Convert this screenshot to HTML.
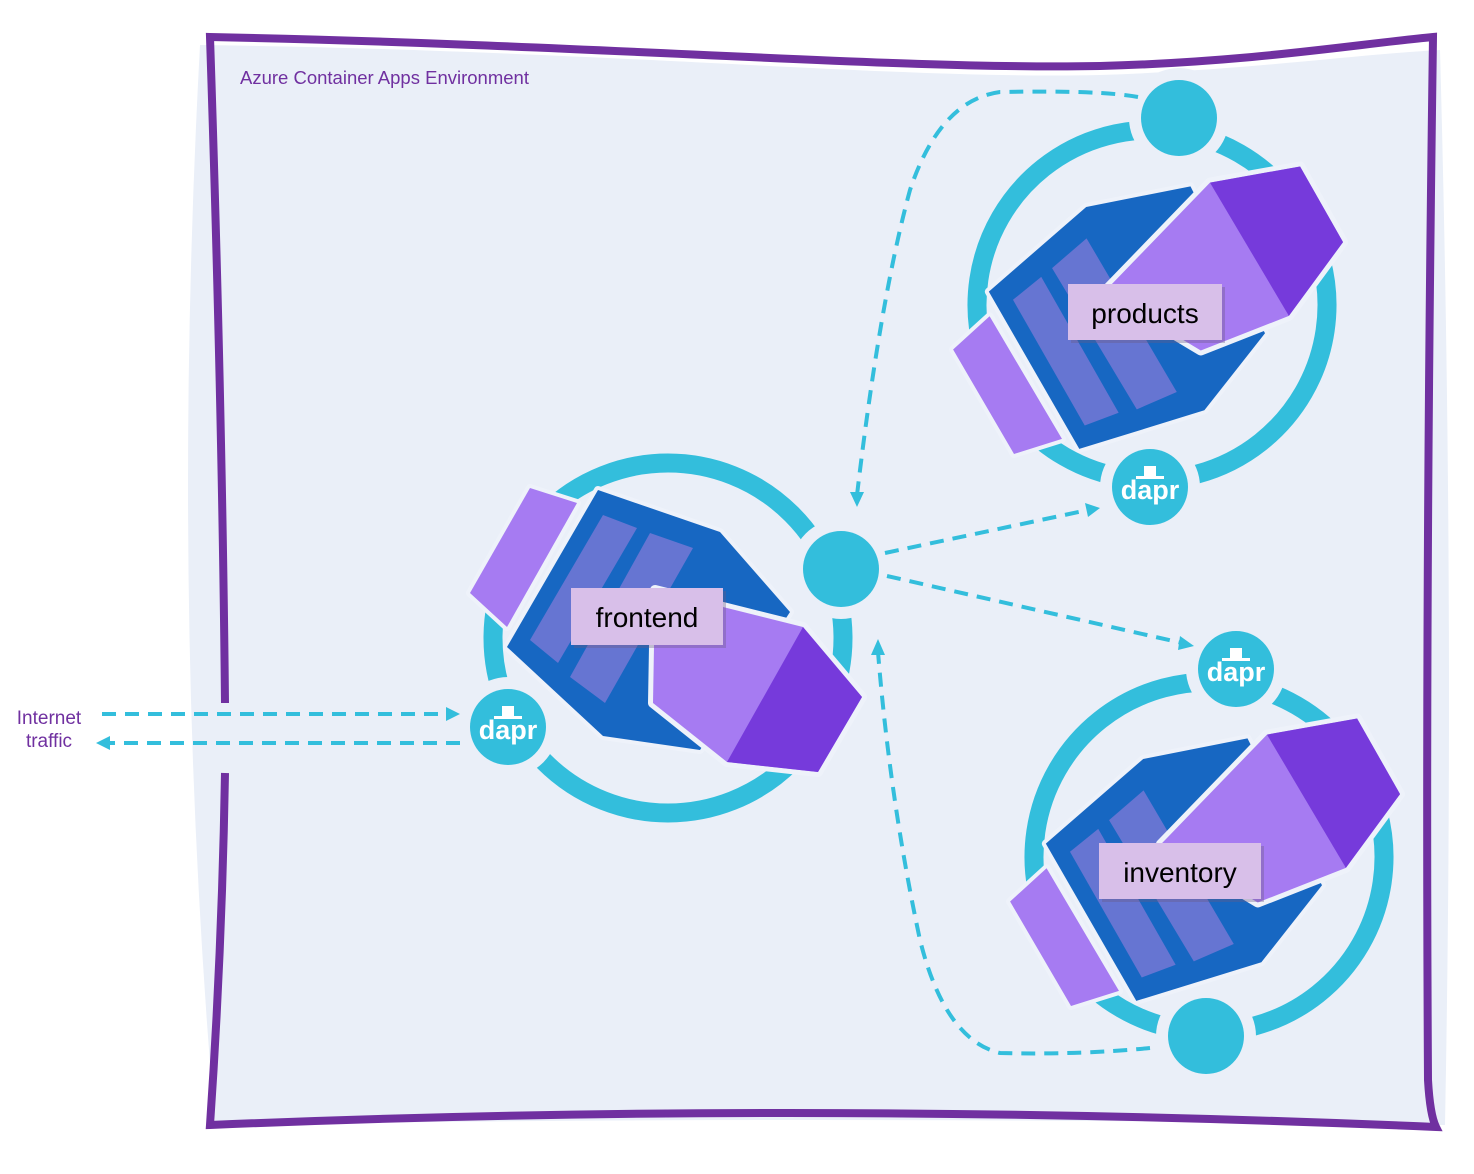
<!DOCTYPE html>
<html><head><meta charset="utf-8"><style>
html,body{margin:0;padding:0;background:#fff;width:1474px;height:1174px;overflow:hidden}
svg{display:block}
text{font-family:"Liberation Sans",sans-serif}
</style></head><body>
<svg width="1474" height="1174" viewBox="0 0 1474 1174" xmlns="http://www.w3.org/2000/svg">
<defs>
<g id="icon">
  <circle cx="0" cy="0" r="175" fill="none" stroke="#33bedc" stroke-width="19"/>
  <polygon points="-138,-150 -91,-135 -161,-11 -198,-45" fill="#a67bf2" stroke="#eef2fa" stroke-width="8" stroke-linejoin="round" paint-order="stroke"/>
  <polygon points="-70,-148 52,-106 122,-26 32,112 -65,98 -161,9" fill="#1767c2" stroke="#eef2fa" stroke-width="8" stroke-linejoin="round" paint-order="stroke"/>
  <polygon points="-65,-123 -31,-110 -110,25 -138,2" fill="#6675d2"/>
  <polygon points="-18,-105 25,-90 -63,65 -98,39" fill="#6675d2"/>
  <polygon points="-13,-48 135,-11 194,59 150,134 59,124 -15,65" fill="#a67bf2" stroke="#eef2fa" stroke-width="10" stroke-linejoin="round" paint-order="stroke"/>
  <polygon points="135,-11 194,59 150,134 59,124" fill="#763adb"/>
</g>
</defs>

<path d="M200,45 C600,50 900,80 1100,75 C1250,70 1350,55 1440,50 Q1455,600 1445,1125 Q800,1115 215,1125 Q170,600 200,45 Z" fill="#eaeff8"/>
<path d="M225,703 Q222,400 210,37 C600,45 900,70 1100,66 C1250,62 1350,45 1433,37 Q1425,600 1428,1080 Q1430,1115 1436,1127 Q800,1100 210,1125 Q222,950 225,773" fill="none" stroke="#7030a0" stroke-width="8"/>

<text x="240" y="84" font-size="18.5" fill="#7030a0">Azure Container Apps Environment</text>

<use href="#icon" transform="translate(668,638)"/>
<use href="#icon" transform="translate(1152,305) rotate(-60)"/>
<use href="#icon" transform="translate(1209,857) rotate(-60)"/>

<g fill="#eaeff8">
<circle cx="841" cy="569" r="50"/><circle cx="508" cy="727" r="50"/>
<circle cx="1179" cy="118" r="50"/><circle cx="1150" cy="487" r="50"/>
<circle cx="1236" cy="669" r="50"/><circle cx="1206" cy="1036" r="50"/>
</g>
<g fill="#33bedc">
<circle cx="841" cy="569" r="38"/><circle cx="1179" cy="118" r="38"/><circle cx="1206" cy="1036" r="38"/>
<circle cx="508" cy="727" r="38"/><circle cx="1150" cy="487" r="38"/><circle cx="1236" cy="669" r="38"/>
</g>
<g>
<g transform="translate(508,727)">
<rect x="-6" y="-21" width="12" height="11" fill="#fff"/><rect x="-14" y="-11" width="28" height="3" fill="#fff"/>
<text x="0" y="12" text-anchor="middle" font-size="27" font-weight="bold" fill="#fff">dapr</text></g>
<g transform="translate(1150,487)">
<rect x="-6" y="-21" width="12" height="11" fill="#fff"/><rect x="-14" y="-11" width="28" height="3" fill="#fff"/>
<text x="0" y="12" text-anchor="middle" font-size="27" font-weight="bold" fill="#fff">dapr</text></g>
<g transform="translate(1236,669)">
<rect x="-6" y="-21" width="12" height="11" fill="#fff"/><rect x="-14" y="-11" width="28" height="3" fill="#fff"/>
<text x="0" y="12" text-anchor="middle" font-size="27" font-weight="bold" fill="#fff">dapr</text></g>
</g>

<g fill="none" stroke="#33bedc" stroke-width="4" stroke-dasharray="14,9">
<path d="M1138,97 Q1100,90 1000,92 Q940,100 910,190 Q880,300 857,495"/>
<path d="M885,553 L1088,510"/>
<path d="M887,576 L1182,643"/>
<path d="M1150,1048 Q1080,1055 1000,1053 Q945,1040 920,940 Q890,800 878,652"/>
<path d="M102,714 L448,714"/>
<path d="M460,743 L108,743"/>
</g>
<g fill="#33bedc">
<polygon points="850,492 864,492 857,507"/>
<polygon points="1085,503 1100,508 1088,517"/>
<polygon points="1180,636 1194,646 1178,650"/>
<polygon points="871,655 885,655 878,639"/>
<polygon points="446,707 460,714 446,721"/>
<polygon points="110,736 96,743 110,750"/>
</g>

<text x="49" y="724" font-size="19" fill="#7030a0" text-anchor="middle">Internet</text>
<text x="49" y="747" font-size="19" fill="#7030a0" text-anchor="middle">traffic</text>

<g>
<rect x="574" y="591" width="152" height="57" fill="#6b5a80" opacity="0.35"/>
<rect x="571" y="588" width="152" height="57" fill="#d8bfe9"/>
<text x="647" y="627" text-anchor="middle" font-size="28" fill="#000">frontend</text>
<rect x="1071" y="287" width="154" height="56" fill="#6b5a80" opacity="0.35"/>
<rect x="1068" y="284" width="154" height="56" fill="#d8bfe9"/>
<text x="1145" y="323" text-anchor="middle" font-size="28" fill="#000">products</text>
<rect x="1102" y="846" width="162" height="56" fill="#6b5a80" opacity="0.35"/>
<rect x="1099" y="843" width="162" height="56" fill="#d8bfe9"/>
<text x="1180" y="882" text-anchor="middle" font-size="28" fill="#000">inventory</text>
</g>
</svg>
</body></html>
